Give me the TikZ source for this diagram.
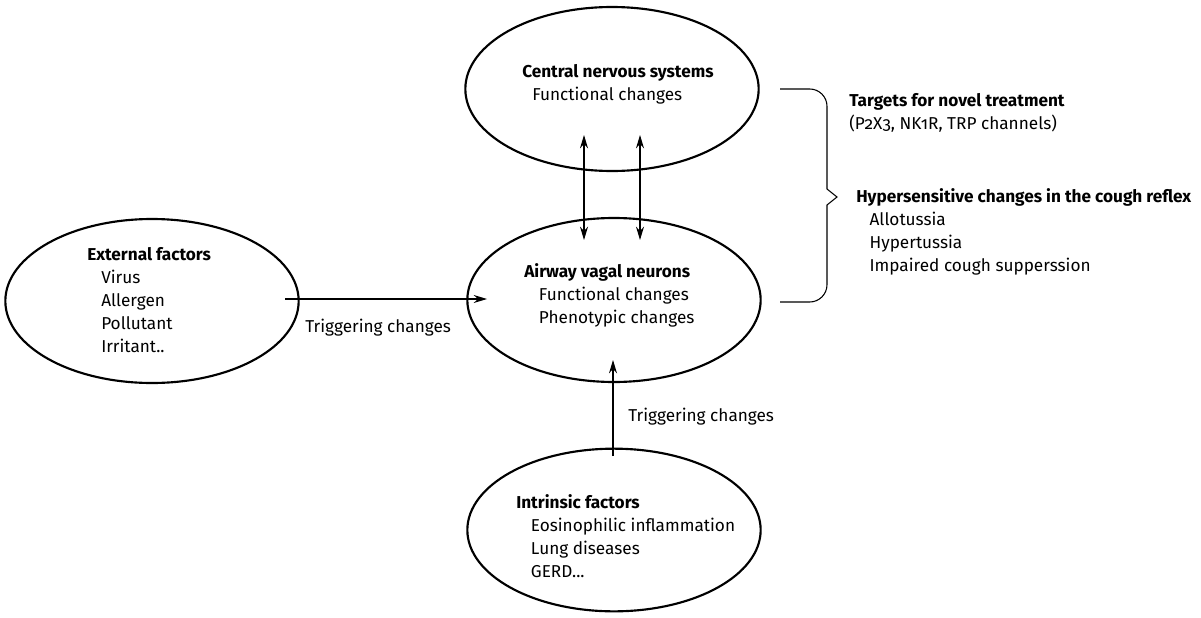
\documentclass[tikz,border=0pt]{standalone}
\usepackage{fontspec}
\setmainfont{Fira Sans}[Numbers=OldStyle]
\usetikzlibrary{arrows.meta,shapes.geometric}

\begin{document}
\begin{tikzpicture}[>=Stealth, x=0.75pt, y=-0.75pt,
  oval/.style={ellipse,draw,line width=1.6pt,inner sep=0pt,minimum width=220pt},
  txt/.style={anchor=west,align=left,inner sep=0pt,font=\fontsize{12.9}{17.25}\selectfont},
  link/.style={line width=0.8pt,>={Stealth[length=10pt,width=6pt]}}]
  \useasboundingbox (0,0) rectangle (1201,617);
  % Ovals
  \node[oval,minimum height=123pt] (cns) at (612,89) {};
  \node[oval,minimum height=123pt] (avn) at (614,300) {};
  \node[oval,minimum height=123pt] (ext) at (152,301) {};
  \node[oval,minimum height=122pt] (int) at (614,530) {};
  % Texts in the ovals
  \node[txt] (cnstxt) at (522,84) {\textbf{Central nervous systems}\\\hspace*{7.5pt}Functional changes};
  \node[txt] (avntxt) at (524,295) {\textbf{Airway vagal neurons}\\\hspace*{11pt}Functional changes\\\hspace*{11pt}Phenotypic changes};
  \node[txt] (exttxt) at (87,300) {\textbf{External factors}\\\hspace*{10.5pt}Virus\\\hspace*{10.5pt}Allergen\\\hspace*{10.5pt}Pollutant\\\hspace*{10.5pt}Irritant..};
  \node[txt] (inttxt) at (516,536) {\textbf{Intrinsic factors}\\\hspace*{11pt}Eosinophilic inflammation\\\hspace*{11pt}Lung diseases\\\hspace*{11pt}GERD...};
  % Arrow ends
  \coordinate (cnsl) at (584,135);
  \coordinate (avnl) at (584,240);
  \coordinate (cnsr) at (640,135);
  \coordinate (avnr) at (640,240);
  \coordinate (extout) at (285,299);
  \coordinate (avnin) at (487,299);
  \coordinate (intout) at (613,456);
  \coordinate (avnbot) at (613,360);
  % Arrows
  \draw[link,<->] (cnsl) -- (avnl);
  \draw[link,<->] (cnsr) -- (avnr);
  \draw[link,->] (extout) -- (avnin);
  \draw[link,->] (intout) -- (avnbot);
  \node[txt] (trigh) at (305,328) {Triggering changes};
  \node[txt] (trigv) at (628,417) {Triggering changes};
  % Brace
  \draw[line width=0.8pt] (780,89) [rounded corners=13pt] -- (827,89) -- (827,150)
    [sharp corners] -- (827,189) -- (837,197) -- (827,205)
    [rounded corners=13pt] -- (827,302) -- (780,302);
  % Right texts
  \node[txt] (tgt) at (849,113) {\textbf{Targets for novel treatment}\\(P2X3, NK1R, TRP channels)};
  \node[txt] (hyp) at (856,232) {\textbf{Hypersensitive changes in the cough reflex}\\\hspace*{10pt}Allotussia\\\hspace*{10pt}Hypertussia\\\hspace*{10pt}Impaired cough supperssion};
\end{tikzpicture}
\end{document}
